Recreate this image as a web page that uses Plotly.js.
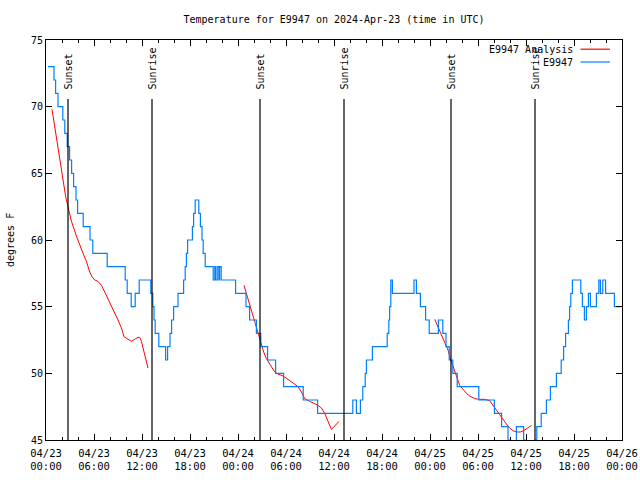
<!DOCTYPE html>
<html>
<head>
<meta charset="utf-8">
<script src="https://cdn.plot.ly/plotly-3.0.1.min.js"></script>
<style>html,body{margin:0;padding:0;background:#fff;}#chart{width:640px;height:480px;}</style>
</head>
<body>
<div id="chart"></div>
<script>
// Hours after 2024-04-23 00:00 UTC
const observedHours = [0.25,1.0,1.2,1.5,2.1,2.35,2.65,2.95,3.2,3.45,3.75,3.95,4.65,5.5,5.85,7.65,9.9,10.15,10.65,11.15,11.65,13.1,13.35,13.5,13.65,14.1,14.95,15.2,15.5,15.7,15.95,16.5,17.2,17.4,17.55,17.7,18.3,18.45,18.65,19.1,19.3,19.5,19.65,19.9,20.9,21.1,21.2,21.4,21.6,21.7,21.9,23.7,25.0,25.45,26.3,26.85,27.7,28.7,29.7,32.15,33.95,38.35,38.8,39.3,39.6,39.9,40.05,40.8,42.65,42.85,42.95,43.1,43.3,46.0,46.3,46.8,47.45,47.9,49.05,49.6,50.0,50.4,50.85,51.4,54.1,56.05,56.95,57.75,57.9,58.8,59.7,59.9,61.15,61.35,61.9,62.55,63.05,63.8,64.4,64.7,64.95,65.3,65.45,65.6,65.8,66.85,67.05,67.3,67.55,67.8,68.05,68.8,69.1,69.3,69.6,69.95,71.05,71.95];
const observedTemps = [73,72,71,70,69,68,67,66,65,64,63,62,61,60,59,58,57,56,55,56,57,56,55,54,53,52,51,52,53,54,55,56,57,58,59,60,61,62,63,62,61,60,59,58,57,58,57,58,57,58,57,56,55,54,53,52,51,50,49,48,47,48,47,48,49,50,51,52,53,54,55,57,56,57,56,55,54,53,54,53,52,51,50,49,48,47,46,45,44,46,45,44,45,46,47,48,49,50,51,52,53,54,55,56,57,56,55,54,55,56,55,56,57,56,57,56,55,55];

const analysisHours1 = [0.75,1.09,1.5,1.84,2.13,2.46,2.75,3.18,3.8,4.21,4.63,5.05,5.46,5.75,6.09,6.5,6.93,7.34,7.75,8.18,8.59,9.0,9.43,9.75,10.13,10.68,11.09,11.5,11.71,11.93,12.13,12.34,12.55,12.75];
const analysisTemps1 = [69.8,68.5,67,65.5,64.5,63.25,62.5,61.4,60.3,59.6,59,58.4,57.6,57.25,57,56.9,56.6,56.1,55.6,55.1,54.6,54,53.4,52.75,52.6,52.4,52.55,52.7,52.7,52.4,51.9,51.4,50.9,50.4];
const analysisHours2 = [24.75,25.05,25.25,25.55,25.88,26.21,26.5,26.71,26.93,27.21,27.55,27.88,28.18,28.59,29.0,29.63,30.25,30.88,31.5,31.93,32.34,32.96,33.59,34.0,34.43,34.84,35.25,35.68,36.09,36.63];
const analysisTemps2 = [56.6,56,55.5,54.9,54.25,53.6,53,52.6,52.1,51.6,51.1,50.75,50.5,50.1,49.95,49.8,49.55,49.3,49,48.6,48.1,47.9,47.75,47.6,47.4,47,46.4,45.8,46.05,46.4];
const analysisHours3 = [48.59,49.0,49.43,49.84,50.25,50.55,50.88,51.3,51.71,52.13,52.55,52.96,53.59,54.21,54.84,55.46,55.88,56.3,56.71,57.13,57.55,57.96,58.38,58.8,59.3,59.84,60.25,60.68];
const analysisTemps3 = [54.05,53.5,52.9,52.25,51.75,51.1,50.5,49.75,49.1,48.8,48.5,48.3,48.1,48.05,48.05,47.95,47.55,47.25,46.9,46.5,46.2,45.9,45.7,45.6,45.6,45.75,45.95,46.1];

const sunHours = [2.75,13.25,26.75,37.25,50.625,61.125];
const sunLabels = ["Sunset","Sunrise","Sunset","Sunrise","Sunset","Sunrise"];

const titleText = "Temperature for E9947 on 2024-Apr-23 (time in UTC)";
const yTitle = "degrees F";
const legendNames = ["E9947 Analysis","E9947"];

const BASE = Date.UTC(2024,3,23,0,0,0);
function toDate(h){
  const d = new Date(BASE + Math.round(h*3600000));
  return d.toISOString().slice(0,19).replace('T',' ');
}

const FONT = "DejaVu Sans Mono, monospace";
const RED = "#ff0000", BLUE = "#0080ff";

const traces = [];
[[analysisHours1,analysisTemps1],[analysisHours2,analysisTemps2],[analysisHours3,analysisTemps3]].forEach(([hs,ts])=>{
  traces.push({x: hs.map(toDate), y: ts, type:'scatter', mode:'lines', line:{color:RED,width:1}, showlegend:false, hoverinfo:'skip'});
});
traces.push({x: observedHours.map(toDate), y: observedTemps, type:'scatter', mode:'lines', line:{color:BLUE,width:1.2,shape:'hv'}, showlegend:false, hoverinfo:'skip'});

const shapes = [];
const annotations = [];
sunHours.forEach((h,i)=>{
  shapes.push({type:'line', xref:'x', yref:'paper', x0:toDate(h), x1:toDate(h), y0:0, y1:0.8525, line:{color:'#000',width:1.2}});
  annotations.push({xref:'x', yref:'paper', x:toDate(h), y:0.871, text:sunLabels[i], textangle:-90, showarrow:false, xanchor:'center', yanchor:'bottom', xshift:1, font:{family:FONT,size:10,color:'#000'}});
});
// legend (gnuplot style: text on left, sample on right)
const legY = [0.977, 0.945];
const legCol = [RED, BLUE];
legendNames.forEach((n,i)=>{
  annotations.push({xref:'paper', yref:'paper', x:0.918, y:legY[i], text:n, showarrow:false, xanchor:'right', yanchor:'middle', font:{family:FONT,size:10,color:'#000'}});
  shapes.push({type:'line', xref:'paper', yref:'paper', x0:0.928, x1:0.979, y0:legY[i], y1:legY[i], line:{color:legCol[i],width:1.2}});
});
annotations.push({xref:'paper', yref:'paper', x:-0.0625, y:0.5, text:yTitle, textangle:-90, showarrow:false, xanchor:'center', yanchor:'middle', font:{family:FONT,size:10,color:'#000'}});

const layout = {
  width:640, height:480,
  margin:{l:46, r:18, t:40, b:40},
  paper_bgcolor:'#fff', plot_bgcolor:'#fff',
  font:{family:FONT, size:10, color:'#000'},
  showlegend:false,
  title:{text:titleText, xref:'paper', x:0.5, xanchor:'center', yref:'container', y:0.96, yanchor:'middle', font:{family:FONT,size:10,color:'#000'}},
  xaxis:{type:'date', range:[toDate(0),toDate(72)], tick0:toDate(0), dtick:6*3600000, tickformat:'%m/%d<br>%H:%M',
         ticks:'inside', ticklen:6, tickcolor:'#000', showline:true, linecolor:'#000', linewidth:1, mirror:'allticks',
         showgrid:false, zeroline:false, minor:{dtick:2*3600000, ticks:'inside', ticklen:3, tickcolor:'#000', showgrid:false},
         ticklabelstandoff:3, tickfont:{family:FONT,size:10.5,color:'#000'}, fixedrange:true},
  yaxis:{range:[45,75], dtick:5, ticks:'inside', ticklen:6, tickcolor:'#000', showline:true, linecolor:'#000', linewidth:1,
         mirror:'allticks', showgrid:false, zeroline:false, tickfont:{family:FONT,size:10,color:'#000'}, fixedrange:true},
  shapes: shapes,
  annotations: annotations
};
Plotly.newPlot('chart', traces, layout, {displayModeBar:false, staticPlot:true});
</script>
</body>
</html>
